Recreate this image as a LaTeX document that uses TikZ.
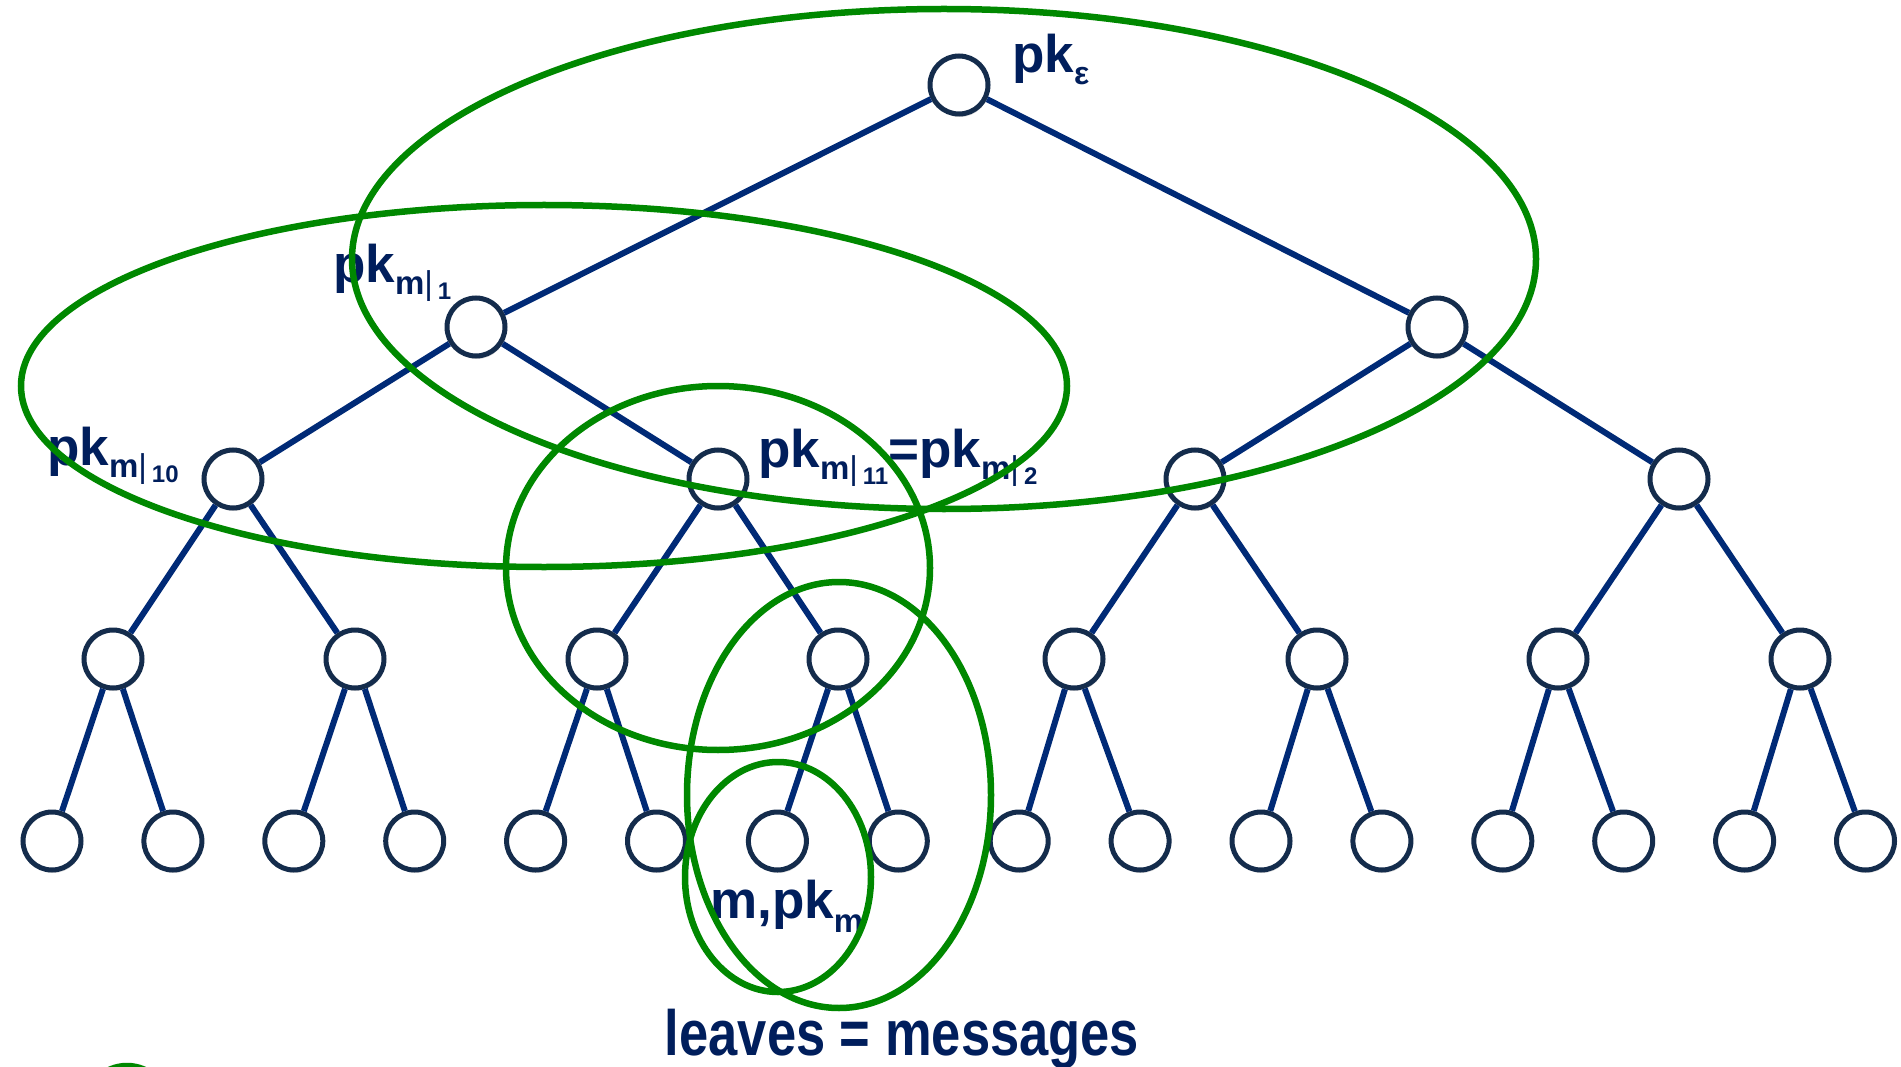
\documentclass[tikz,border=0pt]{standalone}
\usepackage{fontspec}
\setmainfont{Liberation Sans}
\newfontfamily\narrowfont[FakeStretch=0.82]{Liberation Sans}
\usetikzlibrary{shadows}

\definecolor{navytext}{RGB}{0,30,92}
\definecolor{edgeblue}{RGB}{0,42,118}
\definecolor{nodeline}{RGB}{20,44,76}
\definecolor{setgreen}{RGB}{0,136,0}

% subscript "m|" followed by a smaller index
\newcommand{\subm}[1]{\raisebox{-12pt}{\fontsize{33}{33}\selectfont m{\mdseries|}\raisebox{-5pt}{\fontsize{24}{24}\selectfont\hspace{5pt}#1}}}
\newcommand{\subx}[1]{\raisebox{-12pt}{\fontsize{32}{32}\selectfont #1}}

\begin{document}
\begin{tikzpicture}[x=1pt,y=-1pt,
  vertex/.style={circle, draw=nodeline, line width=5pt, fill=white,
    minimum size=58pt, inner sep=0pt,
    drop shadow={shadow xshift=1pt, shadow yshift=-3pt, opacity=0.15, fill=black}},
  link/.style={draw=edgeblue, line width=6pt},
  subset/.style={draw=setgreen, line width=6.5pt},
  lbl/.style={text=navytext, font=\bfseries\fontsize{53}{53}\selectfont,
    inner sep=0pt, anchor=base west}]

\fill[white] (0,0) rectangle (1901,1067);
\useasboundingbox (0,0) rectangle (1901,1067);

% tree nodes
\node[vertex] (r) at (959,85) {};
\node[vertex] (a0) at (476,327) {};
\node[vertex] (a1) at (1437,327) {};
\foreach \i/\x in {0/233,1/718,2/1195,3/1679}
  \node[vertex] (b\i) at (\x,479) {};
\foreach \i/\x in {0/113,1/355,2/597,3/838,4/1074,5/1317,6/1558,7/1800}
  \node[vertex] (c\i) at (\x,659) {};
\foreach \i in {0,...,15}
  \node[vertex] (d\i) at ({52+120.9*\i},841) {};

% tree edges
\draw[link] (r) -- (a0) (r) -- (a1);
\draw[link] (a0) -- (b0) (a0) -- (b1) (a1) -- (b2) (a1) -- (b3);
\foreach \p/\l/\q in {0/0/1,1/2/3,2/4/5,3/6/7}
  \draw[link] (b\p) -- (c\l) (b\p) -- (c\q);
\foreach \p/\l/\q in {0/0/1,1/2/3,2/4/5,3/6/7,4/8/9,5/10/11,6/12/13,7/14/15}
  \draw[link] (c\p) -- (d\l) (c\p) -- (d\q);

% labels
\node[lbl] (lroot) at (1012,73) {pk\subx{ε}};
\node[lbl] (la0) at (333,283) {pk\subm{1}};
\node[lbl] (lb0) at (47,465) {pk\subm{10}};
\node[lbl] (lb1) at (758,467) {pk\subm{11}=pk\subm{2}};
\node[lbl] (lleaf) at (710,918) {m,pk\raisebox{-14pt}{\fontsize{33}{33}\selectfont m}};
\node[text=navytext, font=\narrowfont\bfseries\fontsize{64}{64}\selectfont,
  inner sep=0pt, anchor=base] (lcap) at (902,1055) {leaves = messages};

% green subsets
\draw[subset] (944,259) ellipse [x radius=592pt, y radius=250pt];
\draw[subset] (544,386) ellipse [x radius=523pt, y radius=181pt];
\draw[subset] (718,568) ellipse [x radius=212pt, y radius=182pt];
\draw[subset] (839,795) ellipse [x radius=152pt, y radius=213pt];
\draw[subset] (778,877) ellipse [x radius=93pt, y radius=115pt];
\draw[subset] (127,1108) circle [radius=42pt];
\end{tikzpicture}
\end{document}
